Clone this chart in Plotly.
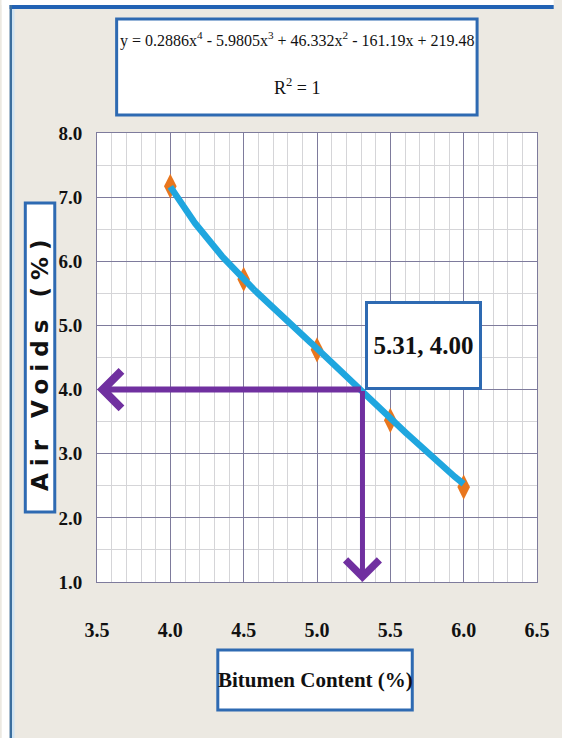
import numpy as np
import plotly.graph_objects as go

# Marshall mix design: air voids vs bitumen content
bitumen = [4.0, 4.5, 5.0, 5.5, 6.0]
air_voids = [7.17, 5.72, 4.62, 3.52, 2.48]

# 4th-order trendline coefficients (highest power first), as printed in the equation
trend_coeffs = [0.2886, -5.9805, 46.332, -161.19, 219.48]
r_squared = 1

# Design target and resulting optimum bitumen content
target_voids = 4.00
optimum_bitumen = 5.31

x_ticks = [3.5, 4.0, 4.5, 5.0, 5.5, 6.0, 6.5]
y_ticks = [1.0, 2.0, 3.0, 4.0, 5.0, 6.0, 7.0, 8.0]

W, H = 562, 738
ML, MR, MT, MB = 97, 17, 133, 156
PW, PH = W - ML - MR, H - MT - MB


def px(x):
    return (x - ML) / PW


def py(y):
    return (H - MB - y) / PH


BEIGE = "#ECE9E2"
BOX_BLUE = "#2E6AB2"
PURPLE = "#7030A0"
CYAN = "#1FA6DF"
ORANGE = "#E8761E"
MAJOR = "#7E7B9C"
MINOR = "#D5D5D8"
SERIF = "Liberation Serif"

x_curve = np.linspace(bitumen[0], bitumen[-1], 200)
y_curve = np.polyval(trend_coeffs, x_curve)

fig = go.Figure()
fig.add_trace(go.Scatter(
    x=bitumen, y=air_voids, mode="markers",
    marker=dict(symbol="diamond-tall", size=18, color=ORANGE, line=dict(width=0)),
    hoverinfo="skip", showlegend=False,
))
fig.add_trace(go.Scatter(
    x=x_curve, y=y_curve, mode="lines",
    line=dict(color=CYAN, width=6.5),
    hoverinfo="skip", showlegend=False,
))

shapes = [
    # window frame strips around the chart panel
    dict(type="rect", xref="paper", yref="paper", x0=px(0), x1=px(8), y0=py(H), y1=py(0),
         fillcolor="#FFFFFF", line=dict(width=0), layer="below"),
    dict(type="rect", xref="paper", yref="paper", x0=px(0), x1=px(W), y0=py(5), y1=py(0),
         fillcolor="#FFFFFF", line=dict(width=0), layer="below"),
    dict(type="rect", xref="paper", yref="paper", x0=px(8), x1=px(W), y0=py(9), y1=py(5),
         fillcolor="#2262B4", line=dict(width=0), layer="below"),
    dict(type="rect", xref="paper", yref="paper", x0=px(8), x1=px(10.5), y0=py(H), y1=py(5),
         fillcolor="#3B6E9E", line=dict(width=0), layer="below"),
    dict(type="rect", xref="paper", yref="paper", x0=px(10.5), x1=px(13), y0=py(H), y1=py(9),
         fillcolor="#CFE3F2", line=dict(width=0), layer="below"),
    # equation box
    dict(type="rect", xref="paper", yref="paper", x0=px(117), x1=px(484), y0=py(115), y1=py(19),
         fillcolor="#FFFFFF", line=dict(color=BOX_BLUE, width=3), layer="below"),
    # axis title boxes
    dict(type="rect", xref="paper", yref="paper", x0=px(220), x1=px(418), y0=py(710), y1=py(650),
         fillcolor="#FFFFFF", line=dict(color=BOX_BLUE, width=3), layer="below"),
    dict(type="rect", xref="paper", yref="paper", x0=px(24), x1=px(54), y0=py(512), y1=py(203),
         fillcolor="#FFFFFF", line=dict(color=BOX_BLUE, width=3), layer="below"),
]

annotations = [
    dict(xref="paper", yref="paper", x=px(301), y=py(40), xanchor="center", yanchor="middle",
         text="y = 0.2886x<sup>4</sup> - 5.9805x<sup>3</sup> + 46.332x<sup>2</sup> - 161.19x + 219.48",
         showarrow=False, font=dict(family=SERIF, size=16, color="#111111")),
    dict(xref="paper", yref="paper", x=px(301), y=py(86), xanchor="center", yanchor="middle",
         text=f"R<sup>2</sup> = {r_squared}",
         showarrow=False, font=dict(family=SERIF, size=18, color="#111111")),
    dict(xref="paper", yref="paper", x=px(319), y=py(680), xanchor="center", yanchor="middle",
         text="Bitumen Content (%)", showarrow=False,
         font=dict(family=SERIF, size=21, color="#111111", weight="bold")),
    dict(xref="paper", yref="paper", x=px(39), y=py(362), xanchor="center", yanchor="middle",
         text='<span style="letter-spacing:7px">Air Voids (%)</span>', textangle=-90,
         showarrow=False,
         font=dict(family="DejaVu Sans", size=23, color="#111111", weight="bold")),
    # leader arrows from the intersection to both axes
    dict(xref="x", yref="y", axref="x", ayref="y",
         x=x_ticks[0], y=target_voids, ax=optimum_bitumen, ay=target_voids,
         text="", showarrow=True, arrowhead=4, arrowsize=1.2, arrowwidth=6,
         arrowcolor=PURPLE, standoff=0, startstandoff=0),
    dict(xref="x", yref="y", axref="x", ayref="y",
         x=optimum_bitumen, y=y_ticks[0], ax=optimum_bitumen, ay=target_voids,
         text="", showarrow=True, arrowhead=4, arrowsize=1.3, arrowwidth=5,
         arrowcolor=PURPLE, standoff=0, startstandoff=0),
    # intersection label
    dict(xref="x", yref="y", x=optimum_bitumen, y=target_voids,
         xanchor="left", yanchor="bottom", xshift=3,
         text=f"{optimum_bitumen:.2f}, {target_voids:.2f}", showarrow=False,
         width=109, height=81, borderpad=1, borderwidth=3,
         bordercolor=BOX_BLUE, bgcolor="#FFFFFF",
         font=dict(family=SERIF, size=25, color="#111111", weight="bold")),
]

fig.update_layout(
    width=W, height=H,
    margin=dict(l=ML, r=MR, t=MT, b=MB, pad=0),
    paper_bgcolor=BEIGE, plot_bgcolor="#FFFFFF",
    shapes=shapes, annotations=annotations,
    showlegend=False,
    xaxis=dict(
        range=[x_ticks[0], x_ticks[-1]], tickvals=x_ticks, tickformat=".1f",
        showgrid=True, gridcolor=MAJOR, gridwidth=1,
        minor=dict(dtick=0.1, showgrid=True, gridcolor=MINOR, gridwidth=1),
        showline=True, linecolor=MAJOR, linewidth=1, mirror=True,
        zeroline=False, ticks="", ticklabelstandoff=30,
        tickfont=dict(family=SERIF, size=20, color="#111111", weight="bold"),
    ),
    yaxis=dict(
        range=[y_ticks[0], y_ticks[-1]], tickvals=y_ticks, tickformat=".1f",
        showgrid=True, gridcolor=MAJOR, gridwidth=1,
        minor=dict(dtick=0.5, showgrid=True, gridcolor=MINOR, gridwidth=1),
        showline=True, linecolor=MAJOR, linewidth=1, mirror=True,
        zeroline=False, ticks="", ticklabelstandoff=10,
        tickfont=dict(family=SERIF, size=19, color="#111111", weight="bold"),
    ),
)

fig.write_html("out.html")
